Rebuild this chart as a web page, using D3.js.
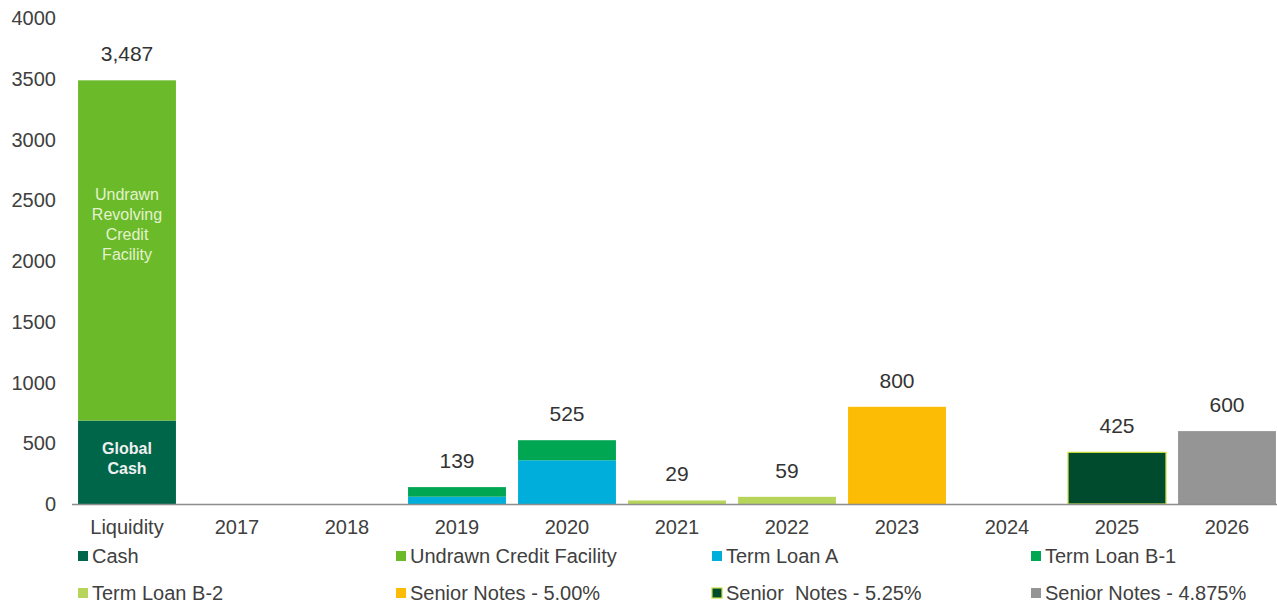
<!DOCTYPE html>
<html><head><meta charset="utf-8">
<script src="https://cdn.jsdelivr.net/npm/d3@7"></script>
<style>body{margin:0;background:#fff;font-family:"Liberation Sans",Arial,sans-serif;} text{white-space:pre;}</style>
</head><body><svg id="c" width="1277" height="605"></svg>
<script>
const categories = ["Liquidity","2017","2018","2019","2020","2021","2022","2023","2024","2025","2026"];
const seriesNames = ["Cash","Undrawn Credit Facility","Term Loan A","Term Loan B-1","Term Loan B-2","Senior Notes - 5.00%","Senior  Notes - 5.25%","Senior Notes - 4.875%"];
const cash        = [687,0,0,0,0,0,0,0,0,0,0];
const undrawn     = [2800,0,0,0,0,0,0,0,0,0,0];
const termLoanA   = [0,0,0,60,360,0,0,0,0,0,0];
const termLoanB1  = [0,0,0,79,165,0,0,0,0,0,0];
const termLoanB2  = [0,0,0,0,0,29,59,0,0,0,0];
const senior500   = [0,0,0,0,0,0,0,800,0,0,0];
const senior525   = [0,0,0,0,0,0,0,0,0,425,0];
const senior4875  = [0,0,0,0,0,0,0,0,0,0,600];
const totalLabels = ["3,487","","","139","525","29","59","800","","425","600"];
const yTicks = [0,500,1000,1500,2000,2500,3000,3500,4000];

const colors = ["#00664a","#6aba2a","#00aedb","#00a651","#b7d55a","#fcbc05","#004a2e","#959595"];
const strokes = [null,null,null,null,null,null,"#c8dc3c",null];
const seriesVals = [cash,undrawn,termLoanA,termLoanB1,termLoanB2,senior500,senior525,senior4875];

const svg = d3.select("#c");
const x = d3.scaleBand().domain(categories).range([72,1282]).paddingInner(0.11).paddingOuter(0.055);
const y = d3.scaleLinear().domain([0,4000]).range([504,18]);

// y axis labels
svg.append("g").selectAll("text").data(yTicks).join("text")
  .attr("x",56).attr("y",d=>y(d)).attr("dy","0.35em").attr("text-anchor","end")
  .attr("font-size",20).attr("fill","#404040").text(d=>d);

const table = categories.map((c,i)=>{const o={cat:c}; seriesNames.forEach((s,j)=>o[s]=seriesVals[j][i]); return o;});
const stacked = d3.stack().keys(seriesNames)(table);

stacked.forEach((layer,j)=>{
  svg.append("g").selectAll("rect").data(layer.filter(d=>d[1]-d[0]>0)).join("rect")
    .attr("x",d=>x(d.data.cat)).attr("width",x.bandwidth())
    .attr("y",d=>y(d[1])).attr("height",d=>y(d[0])-y(d[1]))
    .attr("fill",colors[j])
    .attr("stroke",strokes[j]||"none").attr("stroke-width",strokes[j]?1.2:0);
});

// axis line
svg.append("line").attr("x1",72).attr("x2",1277).attr("y1",y(0)+0.5).attr("y2",y(0)+0.5)
  .attr("stroke","#8c8c8c").attr("stroke-width",1.5);

// x labels
svg.append("g").selectAll("text").data(categories).join("text")
  .attr("x",d=>x(d)+x.bandwidth()/2).attr("y",534).attr("text-anchor","middle")
  .attr("font-size",20).attr("fill","#404040").text(d=>d);

// totals
const totals = categories.map((c,i)=>d3.sum(seriesVals,s=>s[i]));
svg.append("g").selectAll("text").data(categories).join("text")
  .attr("x",d=>x(d)+x.bandwidth()/2).attr("y",(d,i)=>y(totals[i])-19)
  .attr("text-anchor","middle").attr("font-size",21).attr("fill","#333")
  .text((d,i)=>totalLabels[i]);

// inside labels
const cx = x("Liquidity")+x.bandwidth()/2;
const inner = ["Undrawn","Revolving","Credit","Facility"];
svg.append("g").selectAll("text").data(inner).join("text")
  .attr("x",cx).attr("y",(d,i)=>y(2500)+i*20)
  .attr("text-anchor","middle").attr("font-size",16).attr("fill","#e4f2cf").text(d=>d);
const inner2 = ["Global","Cash"];
svg.append("g").selectAll("text").data(inner2).join("text")
  .attr("x",cx).attr("y",(d,i)=>454+i*19.5)
  .attr("text-anchor","middle").attr("font-size",16).attr("font-weight","bold").attr("fill","#f0f0f0").text(d=>d);

// legend
const legX = [78,396,712,1031];
const legY = [556,593];
const lg = svg.append("g").selectAll("g").data(seriesNames).join("g")
  .attr("transform",(d,i)=>`translate(${legX[i%4]},${legY[Math.floor(i/4)]})`);
lg.append("rect").attr("x",0).attr("y",-5).attr("width",10).attr("height",10)
  .attr("fill",(d,i)=>colors[i]).attr("stroke",(d,i)=>strokes[i]||"none").attr("stroke-width",1.2);
lg.append("text").attr("x",14).attr("y",0).attr("dy","0.35em").attr("font-size",20).attr("fill","#404040").text(d=>d);
</script></body></html>
